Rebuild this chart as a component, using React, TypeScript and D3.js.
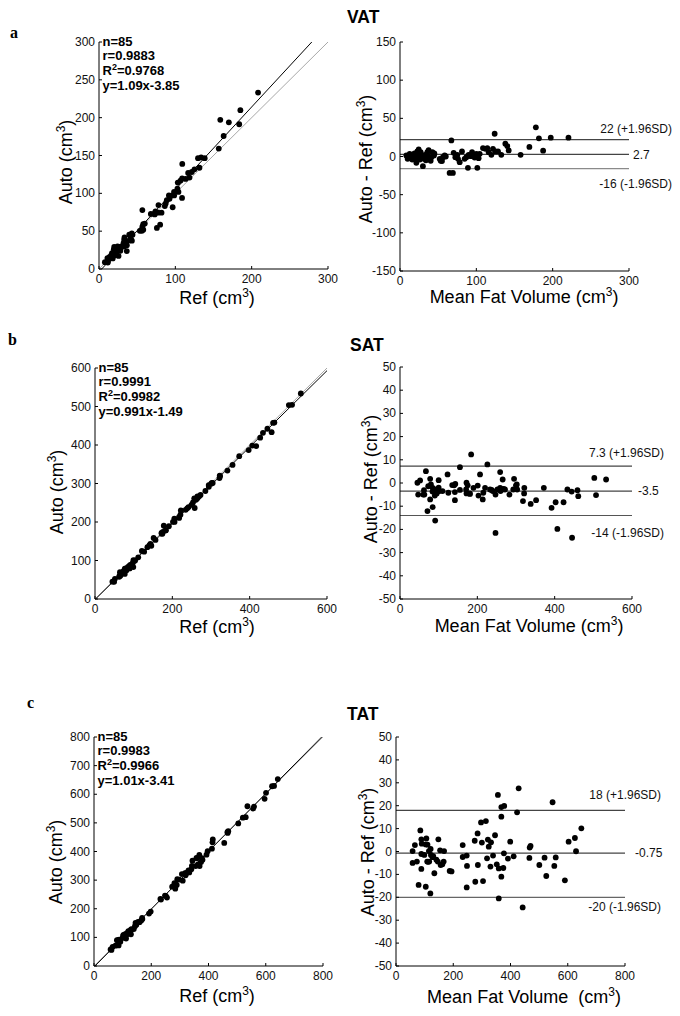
import React from 'react';
import * as d3 from 'd3';

const FONT = '"Liberation Sans", Arial, Helvetica, sans-serif';
const SERIF = '"Liberation Serif", "Times New Roman", serif';

// ---------------- VAT ----------------
const vatRef = [7.7,11.4,11,14.6,15.9,19.2,21.5,25.6,19.4,19.9,24.3,24.3,28.5,36.4,32.9,32.1,33,33.4,40,43.1,39.6,43.9,53.5,56.2,56.8,57.9,56.8,75.8,80.1,67.9,73,74,77.5,81.9,77.9,86.2,87.4,96.5,88.8,92.4,91.6,98.5,98.3,108.8,104.1,102.7,103.2,106.8,108.9,113.4,118.6,116.8,109.1,121.6,125.1,131.6,129.7,133.8,138.5,156.9,163.3,158.9,170.1,183.7,185.2,208.4,11.5,12,14,18,17,22.5,22,28,25.5,28.5,32,36.5,35.5,41.5,43,58,60,73.5,95];
const vatAuto = [9,9.7,14.5,15,18.1,17.5,18.5,17.3,26,29.1,25.6,30,27.6,23.7,29.9,34.3,38.7,41.7,37.8,37.4,45.3,45.2,50.5,50.5,55.9,59.2,77.9,54.3,58.6,72.7,72.1,76.2,74.5,74.5,84.5,83.2,86.5,81.6,91,92.8,97.3,97.2,101.8,93.9,101.9,106.2,114.2,116.9,119.9,119.1,120.8,126.9,138.9,128.2,131.7,133.8,146.4,147.4,146.4,159.1,175.8,197.1,193.9,191.3,209.9,233.1,8.5,12,16,14,21,21.5,24,24,28.5,29.5,32,31.5,36.5,40.5,47,52,60,74.5,97];
const vatMean = [8.3,10.5,12.7,14.8,17,18.3,20,21.4,22.7,24.5,24.9,27.1,28,30,31.4,33.2,35.8,37.5,38.9,40.2,42.4,44.5,52,53.3,56.3,58.5,67.3,65,69.3,70.3,72.5,75.1,76,78.2,81.2,84.7,86.9,89,89.9,92.6,94.4,97.8,100,101.3,103,104.4,108.7,111.8,114.4,116.2,119.7,121.8,124,124.9,128.4,132.7,138,140.6,142.4,158,169.5,178,182,187.5,197.5,220.7,10,12,15,16,19,22,23,26,27,29,32,34,36,41,45,55,60,74,96];
const vatDiff = [1.3,-1.7,3.5,0.4,2.2,-1.7,-3,-8.3,6.6,9.2,1.3,5.7,-0.9,-12.7,-3,2.2,5.7,8.3,-2.2,-5.7,5.7,1.3,-3,-5.7,-0.9,1.3,21.1,-21.5,-21.5,4.8,-0.9,2.2,-3,-7.4,6.6,-3,-0.9,-14.9,2.2,0.4,5.7,-1.3,3.5,-14.9,-2.2,3.5,11,10.1,11,5.7,2.2,10.1,29.8,6.6,6.6,2.2,16.7,13.6,7.9,2.2,12.5,38.2,23.8,7.6,24.7,24.7,-3,0,2,-4,4,-1,2,-4,3,1,0,-5,1,-1,4,-6,0,1,2];
const vatScatterTicks = [0, 100, 200, 300];
const vatScatterYTicks = [0, 50, 100, 150, 200, 250, 300];
const vatBAXTicks = [0, 100, 200, 300];
const vatBAYTicks = [-150, -100, -50, 0, 50, 100, 150];
const vatFit = [1.09, -3.85];
const vatStats = ['n=85', 'r=0.9883', '0.9768', 'y=1.09x-3.85'];
const vatLimits = [22, 2.7, -16];
const vatLimitLabels = ['22 (+1.96SD)', '2.7', '-16 (-1.96SD)'];

// ---------------- SAT ----------------
const satRef = [45,51.5,49.5,65.5,64.5,63.5,77,81.5,89.7,99.1,77.1,73.7,80.3,85.5,91.4,92.7,85.8,99.4,103.8,121.2,127.1,135.5,143.2,144,145.7,151.6,172,172.4,174.3,177.9,183.4,191,201.6,205.7,205.2,217.6,217.6,221,222,234.4,249.5,257.8,253.4,256.7,260,264.8,265.4,272.9,285.5,294.1,294.4,302.3,304.4,321.9,322.6,323.3,342.5,355.7,373,397.4,406.7,416.9,427.2,434.4,445.9,456.8,460.6,463.9,501.4,509.6,532.3,89.5,97.3,101,62.5,175.5,182.3,238.5,241.8,261.8,269.3,140.5,300.5,156.5,111.8];
const satAuto = [45,52.5,44.5,60.5,69.5,60.5,65,74.5,79.3,82.9,78.9,72.3,79.7,83.5,88.6,87.3,82.2,100.6,100.3,124.9,122.9,134.6,142.8,140,138.3,158.4,172,169.6,169.8,190.2,178.7,189,200.5,200.3,208.9,210.5,213.4,219,230,231.6,244.5,236.3,250.6,261.4,258,266.3,262.6,270.1,280.5,295.9,291.6,301.7,301.6,314.1,320.5,318.8,333.5,348.3,371,386.7,398.4,397.1,418.9,431.6,442.2,433.2,457.5,458.2,503.6,504.4,533.8,86.5,92.8,99,57.5,174.5,177.8,235.5,238.3,258.3,266.8,139.5,299.5,153.5,108.3];
const satMean = [45,52,47,63,67,62,71,78,84.5,91,78,73,80,84.5,90,90,84,100,102,123,125,135,143,142,142,155,172,171,172,184,181,190,201,203,207,214,215.5,220,226,233,247,247,252,259,259,265.5,264,271.5,283,295,293,302,303,318,321.5,321,338,352,372,392,402.5,407,423,433,444,445,459,461,502.5,507,533,88,95,100,60,175,180,237,240,260,268,140,300,155,110];
const satDiff = [0.1,1.1,-5,-5,5.1,-3.1,-12.1,-7.1,-10.4,-16.2,1.8,-1.4,-0.6,-2.1,-2.8,-5.4,-3.7,1.2,-3.5,3.7,-4.2,-0.9,-0.4,-3.9,-7.4,6.8,0.1,-2.8,-4.5,12.3,-4.7,-2.1,-1.1,-5.4,3.7,-7.1,-4.2,-2.1,8,-2.8,-5,-21.5,-2.8,4.7,-2.1,1.5,-2.8,-2.8,-5,1.8,-2.8,-0.6,-2.8,-7.8,-2.1,-4.5,-9,-7.4,-2.1,-10.7,-8.3,-19.8,-8.3,-2.8,-3.7,-23.6,-3.1,-5.7,2.2,-5.2,1.5,-3,-4.5,-2,-5,-1,-4.5,-3,-3.5,-3.5,-2.5,-1,-1,-3,-3.5];
const satScatterTicks = [0, 200, 400, 600];
const satScatterYTicks = [0, 100, 200, 300, 400, 500, 600];
const satBAXTicks = [0, 200, 400, 600];
const satBAYTicks = [-50, -40, -30, -20, -10, 0, 10, 20, 30, 40, 50];
const satFit = [0.991, -1.49];
const satStats = ['n=85', 'r=0.9991', '0.9982', 'y=0.991x-1.49'];
const satLimits = [7.3, -3.5, -14];
const satLimitLabels = ['7.3 (+1.96SD)', '-3.5', '-14 (-1.96SD)'];

// ---------------- TAT ----------------
const tatRef = [58,65,61,75,80,86,88,103,102,89,92,86,112,129,111,118,115,120,123,131,139,143,145,148,154,159,165,169,168,192,198,232,234,248,255,251,273,281,284,289,291,298,310,307,318,323,320,330,333,340,342,355,344,363,369,358,368,360,374,377,379,393,397,412,414,415,455,467,466,469,504,520,530,536,556,559,596,601,622,629,642,100,114,129,109];
const tatAuto = [58,67,56,71,90,91,92,109,106,88,85,72,96,111,107,114,115,122,121,129,129,139,151,144,154,153,159,164,168,183,190,234,232,246,239,245,277,289,270,283,303,302,298,321,324,325,317,334,327,338,350,349,368,355,349,378,388,376,363,377,371,389,401,410,432,442,430,465,468,471,498,518,520,558,550,557,584,605,628,629,653,98,110,127,111];
const tatMean = [58,66,58,73,85,88.5,90,106,104,88.5,88.5,79,104,120,109,116,115,121,122,130,134,141,148,146,154,156,162,166.5,168,187.5,194,233,233,247,247,248,275,285,277,286,297,300,304,314,321,324,318,332,330,339,346,352,356,359,359,368,378,368,368,377,375,391,399,411,423,428.5,442.5,466,467,470,500.7,519,525,547,553,558,590,603,625,629,647.5,99,112,128,110];
const tatDiff = [0.2,2.8,-5,-4.4,9.2,5.3,3.4,5.7,3.1,-1.1,-7.6,-14.6,-15.4,-18.3,-4.4,-4.4,0.2,1.1,-1.5,-2,-9.5,-3.6,5.3,-4.4,0.5,-5.9,-5.6,-4.4,0.2,-8.5,-8.7,2.8,-2.4,-1.8,-15.7,-6.3,4.7,7.9,-13.2,-5.9,12.7,3.9,-12.9,13.3,5.2,2.1,-3,4,-6.6,-1.8,7.1,-5.6,24.7,-7.4,-20.5,19.4,19.9,15.2,-11,-0.8,-7.2,-3.1,4.3,-2.1,17.1,27.6,-24.4,-2.8,1.7,2.4,-5.9,-2.7,-10.7,21.5,-6.3,-2.6,-12.6,4.3,5.9,0.1,10.1,-1.5,-4.5,-2.5,3];
const tatScatterTicks = [0, 200, 400, 600, 800];
const tatScatterYTicks = [0, 100, 200, 300, 400, 500, 600, 700, 800];
const tatBAXTicks = [0, 200, 400, 600, 800];
const tatBAYTicks = [-50, -40, -30, -20, -10, 0, 10, 20, 30, 40, 50];
const tatFit = [1.01, -3.41];
const tatStats = ['n=85', 'r=0.9983', '0.9966', 'y=1.01x-3.41'];
const tatLimits = [18, -0.75, -20];
const tatLimitLabels = ['18 (+1.96SD)', '-0.75', '-20 (-1.96SD)'];

const groupNames = ['VAT', 'SAT', 'TAT'];
const panelLetters = ['a', 'b', 'c'];

function Axes({ x, y, xTicks, yTicks }: any) {
  const [xa, xb] = x.range();
  const [yb, ya] = y.range();
  return (
    <g fontFamily={FONT} fontSize={12} fill="#111">
      <line x1={xa} y1={yb} x2={xb} y2={yb} stroke="#000" strokeWidth={1} />
      <line x1={xa} y1={yb} x2={xa} y2={ya} stroke="#000" strokeWidth={1} />
      {xTicks.map((t: number) => (
        <g key={'x' + t}>
          <line x1={x(t)} x2={x(t)} y1={yb} y2={yb - 3} stroke="#000" />
          <text x={x(t)} y={yb + 14} textAnchor="middle">{String(t)}</text>
        </g>
      ))}
      {yTicks.map((t: number) => (
        <g key={'y' + t}>
          <line x1={xa} x2={xa + 3} y1={y(t)} y2={y(t)} stroke="#000" />
          <text x={xa - 4} y={y(t) + 4} textAnchor="end">{String(t)}</text>
        </g>
      ))}
    </g>
  );
}

function Cm3({ pre }: { pre: string }) {
  return (
    <>
      {pre}
      <tspan dy={-7} fontSize={12}>3</tspan>
      <tspan dy={7}>)</tspan>
    </>
  );
}

function Scatter({ box, max, xTicks, yTicks, ref0, auto, fit, stats, yTitle, xTitle }: any) {
  const x = d3.scaleLinear().domain([0, max]).range([box.l, box.r]);
  const y = d3.scaleLinear().domain([0, max]).range([box.b, box.t]);
  const [m, c] = fit;
  const xs = Math.max(0, -c / m);
  const xe = Math.min(max, (max - c) / m);
  const regLine = d3.line<number>().x((d) => x(d)).y((d) => y(m * d + c));
  const idLine = d3.line<number>().x((d) => x(d)).y((d) => y(d));
  return (
    <g>
      <path d={idLine([0, max]) as string} stroke="#a8a8a8" strokeWidth={1} fill="none" />
      <path d={regLine([xs, xe]) as string} stroke="#000" strokeWidth={1} fill="none" />
      {ref0.map((v: number, i: number) => (
        <circle key={i} cx={x(v)} cy={y(auto[i])} r={2.9} fill="#000" />
      ))}
      <Axes x={x} y={y} xTicks={xTicks} yTicks={yTicks} />
      <g fontFamily={FONT} fontSize={13} fontWeight="bold" fill="#000">
        <text x={box.l + 3.5} y={box.t + 4}>{stats[0]}</text>
        <text x={box.l + 3.5} y={box.t + 17.5}>{stats[1]}</text>
        <text x={box.l + 3.5} y={box.t + 33}>
          R<tspan dy={-5} fontSize={9}>2</tspan>
          <tspan dy={5}>={stats[2]}</tspan>
        </text>
        <text x={box.l + 3.5} y={box.t + 48}>{stats[3]}</text>
      </g>
      <g fontFamily={FONT} fontSize={18} fill="#000">
        <text textAnchor="middle" transform={`translate(${yTitle[0]},${yTitle[1]}) rotate(-90)`}>
          <Cm3 pre="Auto (cm" />
        </text>
        <text textAnchor="middle" x={xTitle[0]} y={xTitle[1]}>
          <Cm3 pre="Ref (cm" />
        </text>
      </g>
    </g>
  );
}

function BA({ box, xmax, yr, xTicks, yTicks, mean, diff, limits, labels, lab, yTitle, xTitle, xTitleText, lowColor }: any) {
  const x = d3.scaleLinear().domain([0, xmax]).range([box.l, box.r]);
  const y = d3.scaleLinear().domain([-yr, yr]).range([box.b, box.t]);
  const colors = ['#444', '#444', lowColor];
  return (
    <g>
      {limits.map((v: number, i: number) => (
        <line key={'l' + i} x1={x(0)} x2={x(xmax)} y1={y(v)} y2={y(v)} stroke={colors[i]} strokeWidth={1.2} />
      ))}
      {mean.map((v: number, i: number) => (
        <circle key={i} cx={x(v)} cy={y(diff[i])} r={2.9} fill="#000" />
      ))}
      <Axes x={x} y={y} xTicks={xTicks} yTicks={yTicks} />
      <g fontFamily={FONT} fontSize={12} fill="#111">
        <text x={lab.end} y={y(limits[0]) + lab.up} textAnchor="end">{labels[0]}</text>
        <text x={lab.mid} y={y(limits[1]) + lab.midDy}>{labels[1]}</text>
        <text x={lab.end} y={y(limits[2]) + lab.low} textAnchor="end">{labels[2]}</text>
      </g>
      <g fontFamily={FONT} fontSize={18} fill="#000">
        <text textAnchor="middle" transform={`translate(${yTitle[0]},${yTitle[1]}) rotate(-90)`}>
          <Cm3 pre="Auto - Ref (cm" />
        </text>
        <text textAnchor="middle" x={xTitle[0]} y={xTitle[1]} style={{ whiteSpace: 'pre' }}>
          <Cm3 pre={xTitleText} />
        </text>
      </g>
    </g>
  );
}

export default function App() {
  return (
    <svg width={680} height={1016} viewBox="0 0 680 1016"
      style={{ position: 'absolute', left: 0, top: 0, background: '#fff' }}>
      <rect x={0} y={0} width={680} height={1016} fill="#fff" />
      <g fontFamily={SERIF} fontSize={16} fontWeight="bold" fill="#000">
        <text x={10} y={38}>{panelLetters[0]}</text>
        <text x={8} y={345}>{panelLetters[1]}</text>
        <text x={27} y={708}>{panelLetters[2]}</text>
      </g>
      <g fontFamily={FONT} fontSize={17.5} fontWeight="bold" fill="#000">
        <text x={347} y={23}>{groupNames[0]}</text>
        <text x={350} y={351}>{groupNames[1]}</text>
        <text x={347} y={720}>{groupNames[2]}</text>
      </g>

      <Scatter box={{ l: 99, r: 328, t: 42, b: 269 }} max={300}
        xTicks={vatScatterTicks} yTicks={vatScatterYTicks}
        ref0={vatRef} auto={vatAuto} fit={vatFit} stats={vatStats}
        yTitle={[72, 162]} xTitle={[217, 304]} />
      <BA box={{ l: 400, r: 629, t: 42, b: 271 }} xmax={300} yr={150}
        xTicks={vatBAXTicks} yTicks={vatBAYTicks} mean={vatMean} diff={vatDiff}
        limits={vatLimits} labels={vatLimitLabels}
        lab={{ end: 672, up: -7, mid: 633, midDy: 5, low: 19.5 }}
        yTitle={[372, 159]} xTitle={[524, 303]} xTitleText="Mean Fat Volume (cm" lowColor="#8a8a8a" />

      <Scatter box={{ l: 95, r: 327, t: 368, b: 599 }} max={600}
        xTicks={satScatterTicks} yTicks={satScatterYTicks}
        ref0={satRef} auto={satAuto} fit={satFit} stats={satStats}
        yTitle={[63, 492]} xTitle={[217, 633]} />
      <BA box={{ l: 400, r: 632, t: 367, b: 599 }} xmax={600} yr={50}
        xTicks={satBAXTicks} yTicks={satBAYTicks} mean={satMean} diff={satDiff}
        limits={satLimits} labels={satLimitLabels}
        lab={{ end: 664, up: -9, mid: 638, midDy: 4, low: 21.5 }}
        yTitle={[377, 479]} xTitle={[529, 632]} xTitleText="Mean Fat Volume (cm" lowColor="#555" />

      <Scatter box={{ l: 94, r: 323, t: 737, b: 966 }} max={800}
        xTicks={tatScatterTicks} yTicks={tatScatterYTicks}
        ref0={tatRef} auto={tatAuto} fit={tatFit} stats={tatStats}
        yTitle={[62, 862]} xTitle={[217, 1002]} />
      <BA box={{ l: 396, r: 625, t: 737, b: 966 }} xmax={800} yr={50}
        xTicks={tatBAXTicks} yTicks={tatBAYTicks} mean={tatMean} diff={tatDiff}
        limits={tatLimits} labels={tatLimitLabels}
        lab={{ end: 661, up: -11, mid: 635, midDy: 4, low: 14 }}
        yTitle={[374, 852]} xTitle={[524, 1003]} xTitleText="Mean Fat Volume  (cm" lowColor="#666" />
    </svg>
  );
}
